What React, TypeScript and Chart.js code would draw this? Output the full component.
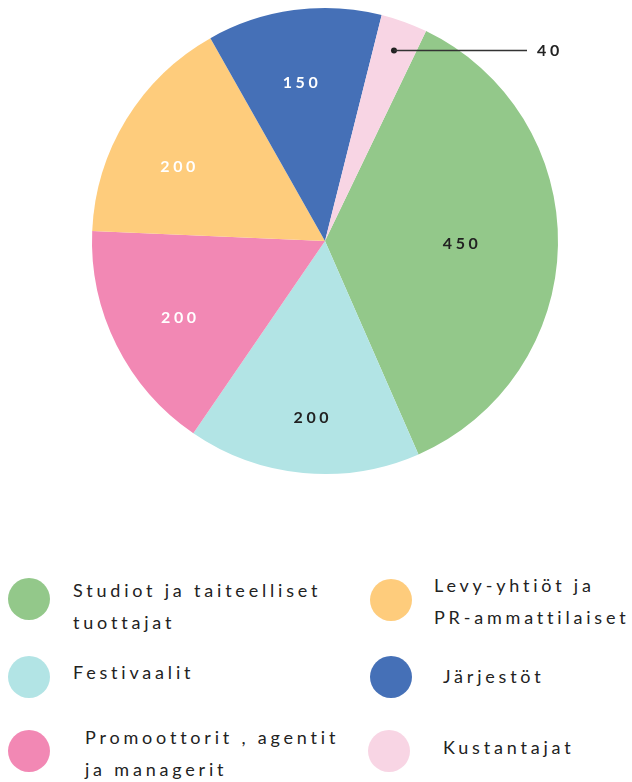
import React, { useEffect, useRef } from "react";
import { Chart, registerables } from "chart.js";

Chart.register(...registerables);

const categories = [
  "Studiot ja taiteelliset tuottajat",
  "Festivaalit",
  "Promoottorit , agentit ja managerit",
  "Levy-yhtiöt ja PR-ammattilaiset",
  "Järjestöt",
  "Kustantajat",
];
const values = [450, 200, 200, 200, 150, 40];
const sliceColors = ["#93C88A", "#B2E4E5", "#F288B4", "#FECC7C", "#4570B7", "#F8D5E4"];
const valueLabelColors = ["#222222", "#222222", "#ffffff", "#ffffff", "#ffffff", "#222222"];
const labelRadiusFrac = [0.58, 0.76, 0.71, 0.708, 0.687, 0.87];
const labelAngleShiftDeg = [0, -0.8, -1.0, -4.8, -1.3, 0];

const legendLines = [
  ["Studiot ja taiteelliset", "tuottajat"],
  ["Festivaalit"],
  ["Promoottorit , agentit", "ja managerit"],
  ["Levy-yhtiöt ja", "PR-ammattilaiset"],
  ["Järjestöt"],
  ["Kustantajat"],
];
// legend placement (circle centre, text left, first line centre)
const legendPlace = [
  { cx: 29, cy: 599, tx: 73, ty: 590 },
  { cx: 29, cy: 677, tx: 73, ty: 672 },
  { cx: 29, cy: 751, tx: 85, ty: 737 },
  { cx: 391, cy: 600, tx: 434, ty: 585 },
  { cx: 391, cy: 677, tx: 443, ty: 676 },
  { cx: 389, cy: 751, tx: 443, ty: 747 },
];

const labelPlugin = {
  id: "valueLabels",
  afterDatasetsDraw(chart: any) {
    const ctx = chart.ctx;
    const meta = chart.getDatasetMeta(0);
    ctx.save();
    ctx.font = "bold 16px Lato";
    (ctx as any).letterSpacing = "3.6px";
    meta.data.forEach((arc: any, i: number) => {
      const p = arc.getProps(["x", "y", "startAngle", "endAngle", "outerRadius"], true);
      const mid = (p.startAngle + p.endAngle) / 2 + (labelAngleShiftDeg[i] * Math.PI) / 180;
      const r = p.outerRadius * labelRadiusFrac[i];
      const x = p.x + Math.cos(mid) * r;
      const y = p.y + Math.sin(mid) * r;
      const text = String(values[i]);
      if (i === values.length - 1) {
        ctx.fillStyle = "#222";
        ctx.strokeStyle = "#333";
        ctx.lineWidth = 1.5;
        ctx.beginPath();
        ctx.arc(x, y, 3, 0, Math.PI * 2);
        ctx.fill();
        ctx.beginPath();
        ctx.moveTo(x, y);
        ctx.lineTo(527, y);
        ctx.stroke();
        ctx.textAlign = "left";
        ctx.textBaseline = "middle";
        ctx.fillText(text, 537, y);
      } else {
        ctx.fillStyle = valueLabelColors[i];
        ctx.textAlign = "center";
        ctx.textBaseline = "middle";
        ctx.fillText(text, x + 2, y);
      }
    });
    ctx.restore();
  },
};

export default function App() {
  const ref = useRef<HTMLCanvasElement>(null);
  useEffect(() => {
    if (!ref.current) return;
    const chart = new Chart(ref.current, {
      type: "pie",
      data: {
        labels: categories,
        datasets: [
          {
            data: values,
            backgroundColor: sliceColors,
            borderWidth: 0,
          },
        ],
      },
      options: {
        animation: false,
        responsive: false,
        rotation: 25.7,
        layout: { padding: { left: 18, right: 0, top: 8, bottom: 8 } },
        plugins: {
          legend: { display: false },
          tooltip: { enabled: false },
        },
      },
      plugins: [labelPlugin],
    });
    return () => chart.destroy();
  }, []);

  return (
    <div style={{ position: "absolute", left: 0, top: 0, width: 632, height: 782, background: "#fff" }}>
      <canvas ref={ref} width={632} height={482} style={{ position: "absolute", left: 0, top: 0 }} />
      {legendPlace.map((p, i) => (
        <React.Fragment key={i}>
          <div
            style={{
              position: "absolute",
              left: p.cx - 21,
              top: p.cy - 21,
              width: 42,
              height: 42,
              borderRadius: "50%",
              background: sliceColors[i],
            }}
          />
          <div
            style={{
              position: "absolute",
              left: p.tx,
              top: p.ty - 16,
              fontFamily: "Lato",
              fontSize: 18,
              lineHeight: "32px",
              letterSpacing: "3.8px",
              color: "#222",
              whiteSpace: "nowrap",
            }}
          >
            {legendLines[i].map((l, j) => (
              <div key={j}>{l}</div>
            ))}
          </div>
        </React.Fragment>
      ))}
    </div>
  );
}
